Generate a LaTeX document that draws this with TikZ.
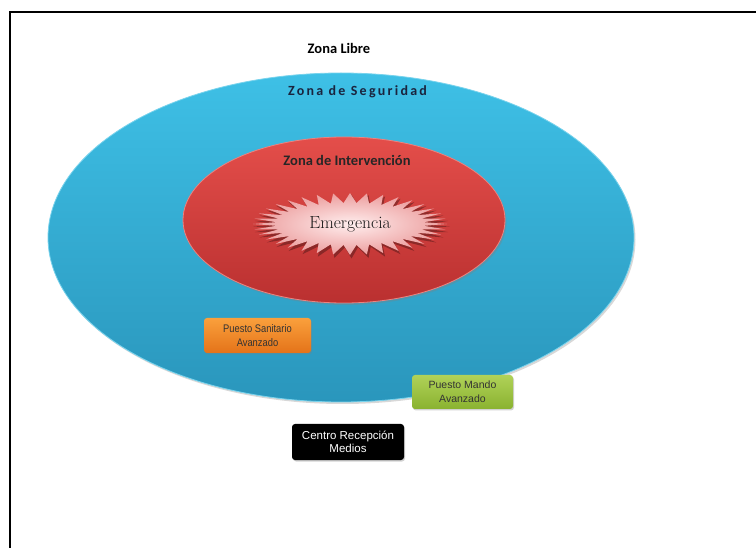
\documentclass[tikz,border=0pt]{standalone}
\usepackage{fontspec}
\setmainfont{Latin Modern Roman}
\newfontfamily\headfont{Carlito}
\newfontfamily\boxfont{Liberation Sans}
\newfontfamily\boxnarrow[FakeStretch=0.85]{Liberation Sans}
\usetikzlibrary{shapes.geometric,shadows}
\definecolor{segtop}{RGB}{62,192,230}
\definecolor{segbot}{RGB}{42,150,188}
\definecolor{segtext}{RGB}{26,36,62}
\definecolor{redtop}{RGB}{228,78,74}
\definecolor{redbot}{RGB}{186,48,48}
\definecolor{pinkin}{RGB}{255,238,238}
\definecolor{pinkout}{RGB}{236,158,158}
\definecolor{orgtop}{RGB}{250,160,60}
\definecolor{orgbot}{RGB}{228,115,25}
\definecolor{grntop}{RGB}{176,210,88}
\definecolor{grnbot}{RGB}{138,178,48}
\tikzset{
  zone/.style={ellipse, inner sep=0pt, draw=none},
  headlabel/.style={font=\headfont\bfseries, inner sep=0pt},
  postbox/.style={rounded corners=3pt, align=center, inner sep=0pt,
    drop shadow={shadow xshift=1pt, shadow yshift=-1.5pt, opacity=0.35}},
  frameline/.style={line width=2pt, black}
}
\begin{document}
\begin{tikzpicture}[x=1pt,y=-1pt]
\useasboundingbox (0,0) rectangle (756,548);
\fill[white] (0,0) rectangle (756,548);
% frame
\coordinate (fbl) at (10,549);
\coordinate (ftl) at (10,12);
\coordinate (ftr) at (757,12);
\draw[frameline] (fbl) -- (ftl) -- (ftr);

\node[headlabel, font=\headfont\bfseries\fontsize{14.5}{16}\selectfont] (libre) at (339,48) {Zona Libre};

% outer zone
\node[zone, minimum width=586, minimum height=329,
      top color=segtop, bottom color=segbot,
      draw=segtop!70!white, line width=0.8pt,
      drop shadow={shadow xshift=1.5pt, shadow yshift=-2pt, opacity=0.3}] (seg) at (341,237.5) {};
\node[headlabel, text=segtext, font=\headfont\bfseries\fontsize{14}{16}\selectfont\addfontfeature{LetterSpace=16}] (segl) at (357.5,92) {Zona de Seguridad};

% inner zone
\node[zone, minimum width=322, minimum height=166,
      top color=redtop, bottom color=redbot,
      draw=redtop!70!white, line width=0.8pt,
      drop shadow={shadow xshift=1.5pt, shadow yshift=-2pt, opacity=0.35}] (inter) at (344,220) {};
\node[headlabel, text=black!85, font=\headfont\bfseries\fontsize{14.5}{16}\selectfont] (interl) at (347,160) {Zona de Intervención};

% starburst
\fill[black, opacity=0.3]
  ({351.5+98*cos(0)},{226.5+32*sin(0)})
  \foreach \i in {1,...,71} { -- ({351.5+(mod(\i,2)==0 ? 98 : 74)*cos(\i*5)},{226.5+(mod(\i,2)==0 ? 32 : 21)*sin(\i*5)}) } -- cycle;
\shade[inner color=pinkin, outer color=pinkout]
  ({350+97*cos(0)},{224+31*sin(0)})
  \foreach \i in {1,...,71} { -- ({350+(mod(\i,2)==0 ? 97 : 74)*cos(\i*5)},{224+(mod(\i,2)==0 ? 31 : 21)*sin(\i*5)}) } -- cycle;
\node[inner sep=0pt, font=\fontsize{17.5}{20}\selectfont, text=black!90] (emer) at (350,224) {Emergencia};

% boxes
\node[postbox, minimum width=107, minimum height=35, top color=orgtop, bottom color=orgbot,
      font=\boxnarrow\fontsize{11}{14}\selectfont, text=black!80] (psa) at (257.5,335.5) {Puesto Sanitario\\Avanzado};
\node[postbox, minimum width=101, minimum height=34, top color=grntop, bottom color=grnbot,
      font=\boxfont\fontsize{10.5}{14}\selectfont, text=black!80] (pma) at (462.5,392) {Puesto Mando\\Avanzado};
\node[postbox, minimum width=112, minimum height=36, fill=black,
      font=\boxfont\fontsize{11.5}{13.5}\selectfont, text=white] (crm) at (348,442) {Centro Recepción\\Medios};
\end{tikzpicture}
\end{document}
